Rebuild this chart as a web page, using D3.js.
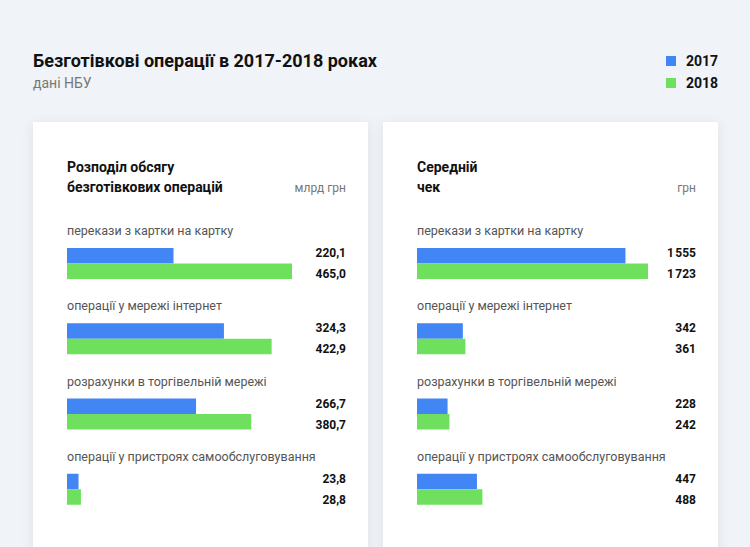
<!DOCTYPE html>
<html><head><meta charset="utf-8">
<script src="https://cdn.jsdelivr.net/npm/d3@7"></script>
<style>
body{margin:0;background:#f0f3f7;font-family:Roboto,"Noto Sans",sans-serif;}
</style></head><body>
<script>
// data
const categories = ['перекази з картки на картку', 'операції у мережі інтернет',
    'розрахунки в торгівельній мережі', 'операції у пристроях самообслуговування'];
const years = ['2017', '2018'];
const volume2017 = [220.1, 324.3, 266.7, 23.8];
const volume2018 = [465.0, 422.9, 380.7, 28.8];
const check2017 = [1555, 342, 228, 447];
const check2018 = [1723, 361, 242, 488];
const colors = ['#4285f4', '#6ee05e'];

const W = 750, H = 547;
const svg = d3.select('body').append('svg').attr('width', W).attr('height', H);

const defs = svg.append('defs');
const f = defs.append('filter').attr('id', 'sh').attr('x', '-10%').attr('y', '-10%').attr('width', '120%').attr('height', '120%');
f.append('feDropShadow').attr('dx', 0).attr('dy', 2).attr('stdDeviation', 6).attr('flood-color', '#000').attr('flood-opacity', 0.08);

svg.append('text').attr('x', 33).attr('y', 67).attr('font-size', 18).attr('font-weight', 700)
    .attr('fill', '#111').text('Безготівкові операції в 2017-2018 роках');
svg.append('text').attr('x', 33).attr('y', 88).attr('font-size', 14).attr('fill', '#777').text('дані НБУ');

const legend = svg.append('g').selectAll('g').data(years).join('g')
    .attr('transform', (d, i) => `translate(666,${56 + i * 22})`);
legend.append('rect').attr('width', 10).attr('height', 10).attr('fill', (d, i) => colors[i]);
legend.append('text').attr('x', 20).attr('y', 10).attr('font-size', 14).attr('font-weight', 700).attr('fill', '#111').text(d => d);

const fmtVol = v => d3.format('.1f')(v).replace('.', ',');
const fmtChk = v => d3.format(',')(v).replace(/,/g, '\u202f');

function panel(x0, title, unit, a, b, fmt) {
    const g = svg.append('g').attr('transform', `translate(${x0},122)`);
    g.append('rect').attr('width', 335).attr('height', 460).attr('fill', '#fff').attr('filter', 'url(#sh)');
    g.append('text').attr('x', 34).attr('y', 50).attr('font-size', 14).attr('font-weight', 700).attr('fill', '#111').text(title[0]);
    g.append('text').attr('x', 34).attr('y', 70).attr('font-size', 14).attr('font-weight', 700).attr('fill', '#111').text(title[1]);
    g.append('text').attr('x', 313).attr('y', 70).attr('text-anchor', 'end').attr('font-size', 12).attr('fill', '#777').text(unit);

    const maxv = d3.max(b.concat(a));
    const x = d3.scaleLinear().domain([0, maxv]).range([0, maxv > 1000 ? 231 : 225]);
    const y = d3.scaleBand().domain(categories).range([100, 401]);

    const row = g.selectAll('g.row').data(categories).join('g').attr('class', 'row')
        .attr('transform', d => `translate(34,${y(d)})`);
    row.append('text').attr('y', 13).attr('font-size', 12.5).attr('fill', '#555').text(d => d);
    [a, b].forEach((arr, k) => {
        row.append('rect').attr('y', 26 + k * 15.5).attr('height', 15.5)
            .attr('width', (d, i) => x(arr[i])).attr('fill', colors[k]);
        row.append('text').attr('x', 279).attr('y', 35 + k * 21).attr('text-anchor', 'end')
            .attr('font-size', 12).attr('font-weight', 700).attr('fill', '#111')
            .text((d, i) => fmt(arr[i]));
    });
}

panel(33, ['Розподіл обсягу', 'безготівкових операцій'], 'млрд грн', volume2017, volume2018, fmtVol);
panel(383, ['Середній', 'чек'], 'грн', check2017, check2018, fmtChk);
</script>
</body></html>
